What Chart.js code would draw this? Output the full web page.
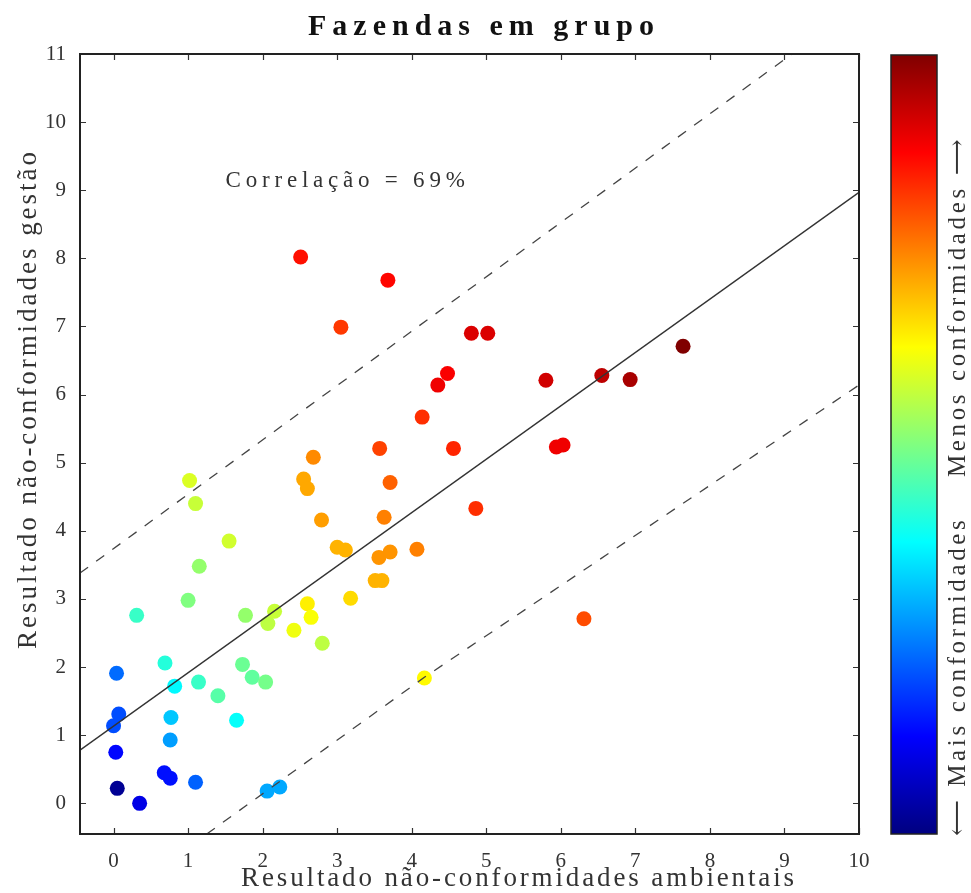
<!DOCTYPE html>
<html>
<head>
<meta charset="utf-8">
<script src="https://cdn.jsdelivr.net/npm/chart.js@4"></script>
<style>
  html, body { margin: 0; padding: 0; background: #fff; }
  #wrap { width: 971px; height: 893px; position: relative; }
</style>
</head>
<body>
<div id="wrap"><canvas id="c"></canvas></div>
<script>
// farms: environmental (x) vs management (y) non-conformities
const ambientais = [
  0.05, 0.35, 0.03, 0.00, 0.07, 0.04, 0.31, 0.68, 0.76, 0.76,
  0.77, 0.82, 0.69, 1.10, 1.14, 1.00, 1.15, 1.55, 1.10, 1.02,
  1.40, 1.65, 1.73, 1.86, 2.04, 1.77, 2.06, 2.23, 2.07, 2.16,
  2.42, 2.60, 2.65, 2.80, 3.18, 3.00, 3.11, 2.79, 2.55, 2.60,
  2.68, 3.51, 3.60, 3.56, 3.71, 3.63, 3.71, 3.57, 4.07, 4.17,
  4.14, 4.56, 4.86, 2.51, 3.05, 3.68, 4.35, 4.48, 4.80, 5.02,
  5.80, 5.94, 6.03, 6.55, 6.93, 7.64, 6.31,
];
const gestao = [
  0.22, 0.00, 0.75, 1.14, 1.31, 1.91, 2.76, 0.45, 0.37, 0.93,
  1.26, 1.72, 2.06, 0.31, 1.78, 2.98, 3.48, 3.85, 4.40, 4.74,
  1.58, 1.22, 2.04, 1.85, 1.78, 2.76, 0.18, 0.24, 2.64, 2.82,
  2.54, 2.93, 2.73, 2.35, 3.01, 3.76, 3.72, 4.16, 4.76, 4.62,
  5.08, 3.27, 3.27, 3.61, 3.69, 4.20, 4.71, 5.21, 3.73, 1.84,
  5.67, 5.21, 4.33, 8.02, 6.99, 7.68, 6.14, 6.31, 6.90, 6.90,
  6.21, 5.23, 5.26, 6.28, 6.22, 6.71, 2.71,
];
// position on the colour bar (0 = mais conformidades, 1 = menos)
const tom = [
  0.02, 0.10, 0.13, 0.20, 0.20, 0.23, 0.43, 0.14, 0.14, 0.28,
  0.32, 0.37, 0.41, 0.22, 0.43, 0.50, 0.52, 0.58, 0.57, 0.59,
  0.46, 0.38, 0.48, 0.47, 0.49, 0.52, 0.29, 0.29, 0.56, 0.57,
  0.61, 0.64, 0.62, 0.56, 0.66, 0.70, 0.70, 0.72, 0.71, 0.71,
  0.74, 0.70, 0.70, 0.73, 0.73, 0.75, 0.78, 0.81, 0.75, 0.63,
  0.83, 0.84, 0.83, 0.86, 0.82, 0.87, 0.89, 0.88, 0.91, 0.91,
  0.92, 0.89, 0.89, 0.94, 0.96, 1.00, 0.80,
];

// regression line and band
const fitX = [-0.45, 10];
const fitY = [0.78, 8.97];
const upperX = [-0.45, 9.1];
const upperY = [3.38, 11.0];
const lowerX = [1.25, 4.17, 10];
const lowerY = [-0.45, 1.85, 6.14];

const xTicks = [0, 1, 2, 3, 4, 5, 6, 7, 8, 9, 10];
const yTicks = [0, 1, 2, 3, 4, 5, 6, 7, 8, 9, 10, 11];

const titulo = "Fazendas em grupo";
const rotuloX = "Resultado não-conformidades ambientais";
const rotuloY = "Resultado não-conformidades gestão";
const correlacao = "Correlação = 69%";
const rotuloBarra = "⟵ Mais conformidades    Menos conformidades ⟶";

const SERIF = '"Liberation Serif", "DejaVu Serif", serif';

function jet(t) {
  const c = (v) => Math.round(255 * Math.min(1, Math.max(0, v)));
  const r = c(1.5 - Math.abs(4 * t - 3));
  const g = c(1.5 - Math.abs(4 * t - 2));
  const b = c(1.5 - Math.abs(4 * t - 1));
  return `rgb(${r},${g},${b})`;
}

function pts(xs, ys) {
  return xs.map((x, i) => ({ x, y: ys[i] }));
}

// text stretched to a given width with letter spacing
function spaced(ctx, text, cx, cy, width, font, angle, color) {
  ctx.save();
  ctx.font = font;
  ctx.fillStyle = color || "#222";
  ctx.letterSpacing = "0px";
  const n = Array.from(text).length;
  const w0 = ctx.measureText(text).width;
  ctx.letterSpacing = ((width - w0) / n).toFixed(2) + "px";
  const w = ctx.measureText(text).width;
  ctx.translate(cx, cy);
  if (angle) ctx.rotate(angle);
  ctx.textAlign = "left";
  ctx.textBaseline = "middle";
  ctx.fillText(text, -w / 2, 0);
  ctx.restore();
}

const decor = {
  id: "decor",
  afterDraw(chart) {
    const { ctx, chartArea: a, scales } = chart;
    const sx = scales.x, sy = scales.y;

    // inward tick marks on all four sides
    ctx.save();
    ctx.strokeStyle = "#333";
    ctx.lineWidth = 1.2;
    ctx.beginPath();
    xTicks.forEach((v) => {
      const px = Math.round(sx.getPixelForValue(v)) + 0.5;
      ctx.moveTo(px, a.bottom); ctx.lineTo(px, a.bottom - 6);
      ctx.moveTo(px, a.top); ctx.lineTo(px, a.top + 6);
    });
    yTicks.forEach((v) => {
      const py = Math.round(sy.getPixelForValue(v)) + 0.5;
      ctx.moveTo(a.left, py); ctx.lineTo(a.left + 6, py);
      ctx.moveTo(a.right, py); ctx.lineTo(a.right - 6, py);
    });
    ctx.stroke();

    // frame
    ctx.strokeStyle = "#222";
    ctx.lineWidth = 2;
    ctx.strokeRect(a.left, a.top, a.right - a.left, a.bottom - a.top);
    ctx.restore();

    // colour bar
    const bx = 891, bw = 46, btop = a.top + 1, bbot = a.bottom;
    const grad = ctx.createLinearGradient(0, bbot, 0, btop);
    for (let k = 0; k <= 8; k++) grad.addColorStop(k / 8, jet(k / 8));
    ctx.save();
    ctx.fillStyle = grad;
    ctx.fillRect(bx, btop, bw, bbot - btop);
    ctx.strokeStyle = "#222";
    ctx.lineWidth = 1.5;
    ctx.strokeRect(bx, btop, bw, bbot - btop);
    ctx.restore();

    // texts
    spaced(ctx, titulo, 484, 27, 352, "bold 30px " + SERIF, 0, "#111");
    spaced(ctx, rotuloX, 519, 879, 556, "27px " + SERIF, 0, "#333");
    spaced(ctx, rotuloY, 29, 399, 500, "27px " + SERIF, -Math.PI / 2, "#333");
    spaced(ctx, correlacao, sx.getPixelForValue(3.14), sy.getPixelForValue(9.13),
      244, "23px " + SERIF, 0, "#333");
    spaced(ctx, rotuloBarra, 958, 486, 700, "25px " + SERIF, -Math.PI / 2, "#333");
  },
};

new Chart(document.getElementById("c"), {
  type: "scatter",
  data: {
    datasets: [
      {
        data: pts(ambientais, gestao),
        pointRadius: 7.5,
        pointHoverRadius: 7.5,
        pointBorderWidth: 0,
        pointBackgroundColor: tom.map(jet),
        showLine: false,
        order: 2,
      },
      {
        type: "line",
        data: pts(fitX, fitY),
        borderColor: "#333",
        borderWidth: 1.4,
        pointRadius: 0,
        fill: false,
        order: 1,
      },
      {
        type: "line",
        data: pts(upperX, upperY),
        borderColor: "#444",
        borderWidth: 1.3,
        borderDash: [10, 10],
        pointRadius: 0,
        fill: false,
        order: 1,
      },
      {
        type: "line",
        data: pts(lowerX, lowerY),
        borderColor: "#444",
        borderWidth: 1.3,
        borderDash: [10, 10],
        pointRadius: 0,
        fill: false,
        order: 1,
      },
    ],
  },
  options: {
    responsive: true,
    maintainAspectRatio: false,
    animation: false,
    events: [],
    layout: { padding: { top: 54, right: 112, left: 0, bottom: 0 } },
    plugins: { legend: { display: false }, tooltip: { enabled: false } },
    scales: {
      x: {
        type: "linear",
        min: -0.45,
        max: 10,
        grid: { display: false },
        border: { display: false },
        afterBuildTicks: (s) => { s.ticks = xTicks.map((v) => ({ value: v })); },
        afterFit: (s) => { s.height = 59; },
        ticks: { padding: 7, color: "#333", font: { family: SERIF, size: 21 } },
      },
      y: {
        type: "linear",
        min: -0.45,
        max: 11,
        grid: { display: false },
        border: { display: false },
        afterBuildTicks: (s) => { s.ticks = yTicks.map((v) => ({ value: v })); },
        afterFit: (s) => { s.width = 80; },
        ticks: { padding: 6, color: "#333", font: { family: SERIF, size: 21 } },
      },
    },
  },
  plugins: [decor],
});
</script>
</body>
</html>
